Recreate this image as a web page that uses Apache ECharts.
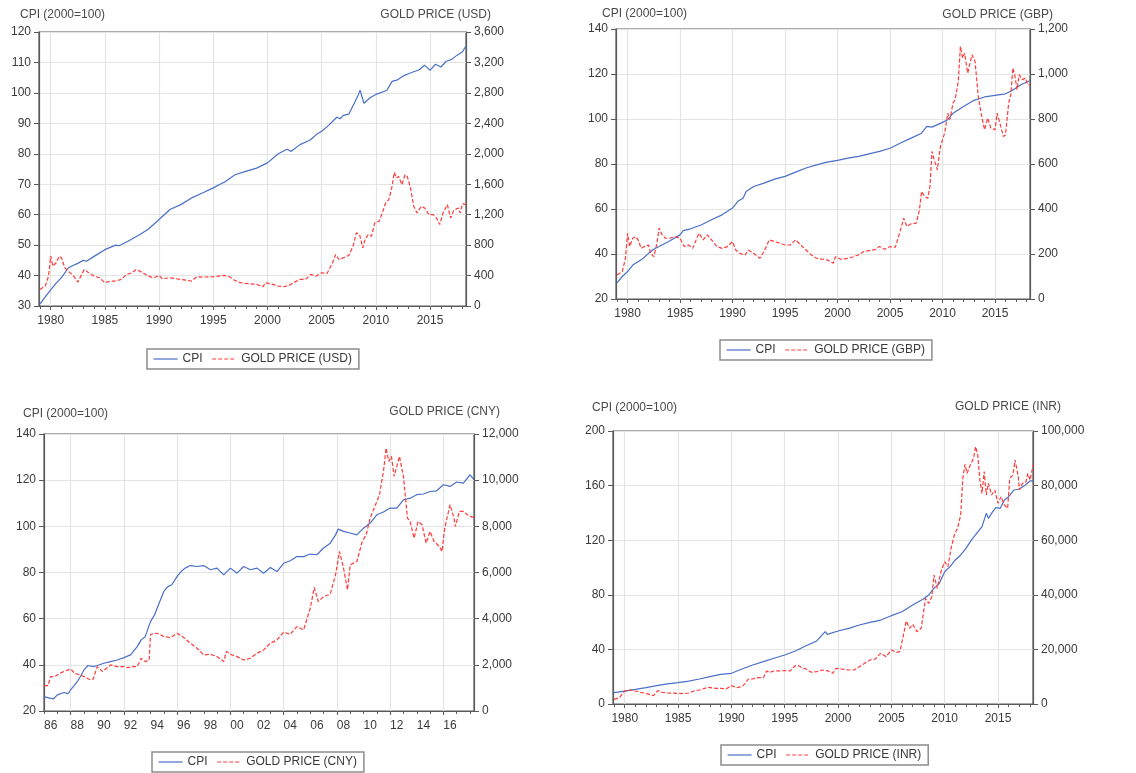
<!DOCTYPE html>
<html><head><meta charset="utf-8">
<script src="https://cdn.jsdelivr.net/npm/echarts@6/dist/echarts.min.js"></script>
<style>html,body{margin:0;padding:0;background:#fff}#c{width:1136px;height:773px}</style>
</head><body><div id="c"></div>
<script>
// ---------- DATA (decimal year, value) ----------
const usdCpi = [[1979.0,30.6],[1979.5,33],[1980.0,35.3],[1980.5,37.5],[1981.0,39.3],[1981.6,42.4],[1982.0,43.2],[1982.5,44],[1983.0,45],[1983.3,44.7],[1984.0,46.3],[1985.0,48.5],[1986.0,50],[1986.3,49.8],[1987.0,51],[1988.0,53],[1989.0,55.2],[1990.0,58.4],[1991.0,61.7],[1992.0,63.3],[1993.0,65.5],[1994.0,67.1],[1995.0,68.8],[1995.8,70.3],[1996.0,70.6],[1997.0,73.1],[1998.0,74.2],[1999.0,75.3],[2000.0,77],[2001.0,80],[2001.8,81.5],[2002.2,80.8],[2003.0,83],[2003.8,84.3],[2004.0,84.7],[2004.5,86.3],[2005.0,87.4],[2005.7,89.5],[2006.0,90.6],[2006.4,92],[2006.7,91.5],[2007.0,92.6],[2007.5,93],[2008.0,96.5],[2008.4,99.5],[2008.55,100.9],[2008.9,96.6],[2009.5,98.5],[2010.0,99.5],[2011.0,100.8],[2011.5,103.8],[2012.0,104.3],[2012.5,105.5],[2013.0,106.3],[2014.0,107.6],[2014.5,109.1],[2015.0,107.4],[2015.5,109.4],[2016.0,108.5],[2016.5,110.4],[2017.0,111],[2017.5,112.4],[2018.0,113.5],[2018.3,115.3]];
const usdGold = [[1979.0,218],[1979.5,262],[1979.8,393],[1980.0,655],[1980.2,524],[1980.5,568],[1980.8,655],[1981.0,633],[1981.3,502],[1981.6,458],[1982.0,415],[1982.5,314],[1982.7,371],[1983.1,480],[1983.5,437],[1984.0,393],[1984.5,371],[1985.0,306],[1985.5,328],[1986.0,328],[1986.5,349],[1987.0,415],[1987.5,437],[1987.9,480],[1988.5,437],[1989.0,393],[1989.5,371],[1990.0,402],[1990.3,358],[1991.0,371],[1992.0,349],[1993.0,328],[1993.5,384],[1994.0,380],[1995.0,384],[1996.0,402],[1996.5,384],[1997.0,336],[1997.5,306],[1998.0,297],[1999.0,284],[1999.6,253],[1999.8,306],[2000.5,284],[2001.0,262],[2001.5,253],[2002.0,271],[2002.5,314],[2003.0,349],[2003.5,349],[2004.0,415],[2004.5,393],[2005.0,437],[2005.5,428],[2006.0,568],[2006.3,677],[2006.6,611],[2007.0,633],[2007.5,664],[2007.9,786],[2008.2,961],[2008.5,939],[2008.8,764],[2009.0,873],[2009.3,939],[2009.6,917],[2009.9,1092],[2010.3,1114],[2010.6,1223],[2010.9,1354],[2011.2,1398],[2011.5,1572],[2011.7,1755],[2011.9,1681],[2012.1,1703],[2012.4,1594],[2012.7,1725],[2012.9,1703],[2013.2,1550],[2013.5,1310],[2013.8,1223],[2014.2,1310],[2014.5,1288],[2014.9,1201],[2015.3,1201],[2015.6,1157],[2015.9,1070],[2016.2,1223],[2016.6,1332],[2016.9,1157],[2017.2,1258],[2017.6,1288],[2017.8,1223],[2018.0,1345],[2018.3,1332]];

const gbpCpi = [[1979.0,27.2],[1979.5,30],[1980.0,32.2],[1980.5,35.1],[1981.0,36.6],[1981.5,38.1],[1982.0,40.3],[1982.5,42.1],[1983.0,43.3],[1984.0,45.8],[1985.0,48.5],[1985.3,50.4],[1986.0,51.2],[1987.0,52.9],[1988.0,55.2],[1989.0,57.4],[1990.0,60.4],[1990.5,63.4],[1991.0,64.8],[1991.3,67.8],[1992.0,70],[1993.0,71.5],[1994.0,73.3],[1995.0,74.5],[1996.0,76.4],[1997.0,78.2],[1998.0,79.6],[1999.0,80.8],[2000.0,81.6],[2001.0,82.6],[2002.0,83.4],[2003.0,84.5],[2004.0,85.6],[2005.0,87],[2006.0,89.3],[2007.0,91.5],[2008.0,93.7],[2008.5,96.7],[2009.0,96.4],[2010.0,98.5],[2010.5,99.7],[2011.0,102.6],[2012.0,105.6],[2013.0,108.3],[2014.0,109.8],[2015.0,110.5],[2016.0,111.2],[2016.5,112.3],[2017.0,113.8],[2017.5,115.3],[2018.3,117]];
const gbpGold = [[1979.0,107],[1979.5,122],[1979.8,181],[1980.0,292],[1980.2,233],[1980.5,270],[1980.8,277],[1981.0,263],[1981.3,225],[1981.6,233],[1982.0,240],[1982.2,203],[1982.5,188],[1982.8,248],[1983.0,315],[1983.3,285],[1983.6,270],[1984.0,270],[1984.5,277],[1985.0,270],[1985.4,233],[1985.8,240],[1986.2,225],[1986.8,292],[1987.2,263],[1987.6,285],[1988.0,263],[1988.5,233],[1989.0,225],[1989.5,233],[1990.0,255],[1990.3,218],[1990.7,203],[1991.2,196],[1991.5,218],[1992.0,203],[1992.6,181],[1993.0,211],[1993.5,263],[1994.0,255],[1994.5,248],[1995.0,240],[1995.5,240],[1996.0,263],[1996.5,240],[1997.0,218],[1997.5,196],[1998.0,181],[1998.5,177],[1999.0,174],[1999.6,159],[1999.8,188],[2000.3,177],[2001.0,181],[2001.5,188],[2002.0,196],[2002.5,211],[2003.0,215],[2003.5,218],[2004.0,233],[2004.5,221],[2005.0,233],[2005.5,230],[2006.0,307],[2006.3,359],[2006.6,322],[2007.0,334],[2007.5,337],[2007.8,396],[2008.0,478],[2008.3,455],[2008.6,448],[2008.8,500],[2009.0,656],[2009.2,619],[2009.5,574],[2009.8,678],[2010.2,737],[2010.5,826],[2010.7,797],[2011.0,871],[2011.2,886],[2011.5,967],[2011.7,1123],[2011.9,1071],[2012.1,1093],[2012.4,1004],[2012.8,1086],[2013.1,1056],[2013.4,901],[2013.7,819],[2014.0,752],[2014.3,804],[2014.6,760],[2015.0,752],[2015.2,826],[2015.5,774],[2015.8,722],[2016.0,730],[2016.3,871],[2016.5,908],[2016.7,1027],[2016.9,990],[2017.1,930],[2017.3,997],[2017.6,975],[2017.9,982],[2018.1,953],[2018.3,953]];

const cnyCpi = [[1986.0,26.2],[1986.5,25.5],[1986.7,25.2],[1987.0,27],[1987.5,28],[1987.8,27.5],[1988.0,29.1],[1988.5,32.7],[1988.8,35.6],[1989.0,37.8],[1989.3,39.7],[1989.7,39.2],[1990.0,39.7],[1990.5,40.7],[1991.0,41.4],[1991.5,42.1],[1992.0,43.1],[1992.5,44.3],[1993.0,47.9],[1993.3,50.8],[1993.6,52.2],[1994.0,58.7],[1994.3,61.6],[1994.6,66],[1995.0,71.8],[1995.3,73.9],[1995.6,74.7],[1996.0,78.3],[1996.3,80.4],[1996.6,81.9],[1997.0,83],[1997.5,82.6],[1998.0,83],[1998.5,81.2],[1999.0,81.9],[1999.5,79],[2000.0,81.9],[2000.5,79.7],[2001.0,82.6],[2001.5,81.2],[2002.0,81.9],[2002.5,79.7],[2003.0,82.2],[2003.5,80.4],[2004.0,84],[2004.5,85.1],[2005.0,86.9],[2005.5,86.9],[2006.0,88],[2006.5,87.7],[2007.0,90.6],[2007.5,92.7],[2007.9,96.3],[2008.1,98.8],[2008.5,97.8],[2009.0,97.1],[2009.5,96.3],[2010.0,99.2],[2010.5,101.4],[2011.0,105],[2011.5,106.2],[2012.0,107.9],[2012.5,107.9],[2013.0,111.5],[2013.5,112.2],[2014.0,113.7],[2014.5,114],[2015.0,115.1],[2015.5,115.4],[2016.0,118],[2016.5,117.3],[2017.0,119.2],[2017.5,118.7],[2018.0,122.3],[2018.3,120.2]];
const cnyGold = [[1986.0,1099],[1986.3,1099],[1986.5,1489],[1986.8,1489],[1987.2,1634],[1987.6,1735],[1988.0,1822],[1988.3,1634],[1988.7,1561],[1989.0,1489],[1989.5,1345],[1989.7,1388],[1990.0,1923],[1990.4,1706],[1990.7,1851],[1991.0,1995],[1991.5,1923],[1992.0,1923],[1992.3,1879],[1992.6,1923],[1993.0,1923],[1993.3,2284],[1993.6,2140],[1993.9,2212],[1994.0,3325],[1994.5,3369],[1995.0,3224],[1995.5,3181],[1996.0,3369],[1996.5,3181],[1997.0,2935],[1997.5,2718],[1998.0,2429],[1998.5,2458],[1999.0,2357],[1999.5,2140],[1999.7,2573],[2000.0,2458],[2000.5,2357],[2001.0,2212],[2001.5,2284],[2002.0,2501],[2002.5,2646],[2003.0,2935],[2003.5,3079],[2004.0,3412],[2004.5,3325],[2005.0,3658],[2005.5,3513],[2006.0,4453],[2006.3,5349],[2006.6,4742],[2007.0,4959],[2007.5,5060],[2007.9,5899],[2008.2,6911],[2008.5,6188],[2008.8,5248],[2009.0,6332],[2009.5,6477],[2009.9,7344],[2010.2,7633],[2010.5,8356],[2010.9,8935],[2011.2,9368],[2011.5,10380],[2011.7,11392],[2011.9,10814],[2012.1,11031],[2012.3,10163],[2012.7,11031],[2013.0,10163],[2013.3,8356],[2013.5,8212],[2013.8,7489],[2014.1,8212],[2014.4,8067],[2014.7,7272],[2015.0,7778],[2015.3,7344],[2015.7,7128],[2015.9,6911],[2016.1,7922],[2016.5,8935],[2016.8,8356],[2016.9,7995],[2017.2,8645],[2017.5,8645],[2017.8,8501],[2018.0,8429],[2018.3,8385]];

const inrCpi = [[1979.0,8.3],[1980.0,9.5],[1981.0,10.7],[1982.0,12],[1983.0,13.4],[1984.0,14.7],[1985.0,15.6],[1986.0,16.8],[1987.0,18.3],[1988.0,20],[1989.0,21.7],[1990.0,22.5],[1991.0,25.6],[1992.0,28.6],[1993.0,31],[1994.0,33.5],[1995.0,35.9],[1996.0,38.8],[1997.0,42.7],[1998.0,46.2],[1998.8,53],[1999.0,51],[2000.0,53.5],[2001.0,55.4],[2002.0,57.9],[2003.0,59.8],[2004.0,61.5],[2005.0,64.7],[2006.0,67.6],[2007.0,72.5],[2008.0,76.9],[2008.5,79.9],[2009.0,84.7],[2009.5,88.4],[2010.0,96.9],[2010.5,100.6],[2011.0,105.5],[2011.5,109.2],[2012.0,114],[2012.5,120.1],[2013.0,125],[2013.5,129.9],[2013.9,139.7],[2014.1,136],[2014.5,140.9],[2014.8,143.8],[2015.2,143.3],[2015.6,149.5],[2016.0,151.9],[2016.5,156.8],[2017.0,157.5],[2017.5,160],[2018.0,163.4],[2018.3,163.4]];
const inrGold = [[1979.0,1709],[1979.5,2320],[1980.0,4762],[1980.5,5128],[1981.0,4762],[1981.5,4273],[1982.0,3907],[1982.5,3297],[1982.7,3053],[1983.1,4884],[1983.5,4273],[1984.0,4029],[1985.0,3907],[1985.5,3785],[1986.0,4029],[1986.5,4762],[1987.0,5128],[1987.8,6105],[1988.5,5739],[1989.0,5739],[1989.5,5495],[1990.0,6716],[1990.5,5983],[1991.0,6349],[1991.3,7570],[1991.6,9158],[1992.0,9158],[1992.5,9646],[1993.0,9646],[1993.3,12088],[1993.6,11600],[1994.0,12088],[1995.0,12210],[1995.5,12088],[1996.0,14042],[1996.3,14042],[1996.6,13309],[1997.0,12821],[1997.5,11600],[1998.0,11844],[1998.5,12454],[1999.0,12210],[1999.5,11233],[1999.8,13065],[2000.3,12821],[2001.0,12454],[2001.5,12454],[2002.0,13675],[2002.5,14896],[2003.0,16117],[2003.5,16484],[2004.0,18559],[2004.5,17338],[2005.0,19780],[2005.5,18926],[2005.8,19170],[2006.2,26496],[2006.4,30403],[2006.7,27717],[2007.0,29182],[2007.4,26496],[2007.8,27717],[2008.2,38706],[2008.5,36874],[2008.8,39316],[2009.0,47253],[2009.3,42369],[2009.7,49084],[2010.0,52137],[2010.3,50305],[2010.6,57021],[2010.9,61905],[2011.2,64347],[2011.5,69231],[2011.7,82662],[2011.9,87790],[2012.1,84493],[2012.4,87546],[2012.7,89988],[2012.9,94261],[2013.1,91209],[2013.3,82051],[2013.5,77167],[2013.7,85104],[2013.9,76557],[2014.1,80830],[2014.4,76557],[2014.7,78388],[2015.0,73504],[2015.3,75946],[2015.6,72894],[2015.9,71673],[2016.1,82662],[2016.4,83883],[2016.6,89377],[2016.9,83272],[2017.0,78388],[2017.3,80830],[2017.6,81197],[2017.8,84493],[2018.0,82051],[2018.3,87546]];

const fiveYearLabels = [1980,1985,1990,1995,2000,2005,2010,2015];
const yearTicksA = [1979,1980,1981,1982,1983,1984,1985,1986,1987,1988,1989,1990,1991,1992,1993,1994,1995,1996,1997,1998,1999,2000,2001,2002,2003,2004,2005,2006,2007,2008,2009,2010,2011,2012,2013,2014,2015,2016,2017,2018];
const cnyLabelPos = [1986.5,1988.5,1990.5,1992.5,1994.5,1996.5,1998.5,2000.5,2002.5,2004.5,2006.5,2008.5,2010.5,2012.5,2014.5,2016.5];
const cnyGridYears = [1988,1992,1996,2000,2004,2008,2012,2016];
const yearTicksB = [1986,1987,1988,1989,1990,1991,1992,1993,1994,1995,1996,1997,1998,1999,2000,2001,2002,2003,2004,2005,2006,2007,2008,2009,2010,2011,2012,2013,2014,2015,2016,2017,2018];

// ---------- CHART ----------
const FONT = 'Liberation Sans, Arial, sans-serif';
const TXT = '#3a3a3a';
const FRAME = '#5a5a5a';
const GRIDC = '#e4e4e4';
const BLUE = '#4a6fc8';
const RED = '#ff3a3a';

const panels = [
  {grid:{left:39,top:32,width:427,height:274}, cpi:usdCpi, gold:usdGold, cur:'USD',
   l:[30,120,10], r:[0,3600,400], x:[1978.92,2018.32], labels:fiveYearLabels, lfmt:v=>String(v), major:fiveYearLabels, minor:yearTicksA,
   legend:{left:147,top:349}, tl:[20,16], tr:[491,16]},
  {grid:{left:616,top:29,width:414,height:270}, cpi:gbpCpi, gold:gbpGold, cur:'GBP',
   l:[20,140,20], r:[0,1200,200], x:[1978.9,2018.33], labels:fiveYearLabels, lfmt:v=>String(v), major:fiveYearLabels, minor:yearTicksA,
   legend:{left:720,top:340}, tl:[602,15], tr:[1053,16]},
  {grid:{left:44,top:434,width:430,height:277}, cpi:cnyCpi, gold:cnyGold, cur:'CNY',
   l:[20,140,20], r:[0,12000,2000], x:[1986.0,2018.3], labels:cnyLabelPos, lfmt:v=>String(Math.floor(v)%100).padStart(2,'0'), major:cnyGridYears, minor:yearTicksB,
   legend:{left:152,top:752}, tl:[23,415], tr:[500,413]},
  {grid:{left:613,top:431,width:420,height:273}, cpi:inrCpi, gold:inrGold, cur:'INR',
   l:[0,200,40], r:[0,100000,20000], x:[1978.9,2018.28], labels:fiveYearLabels, lfmt:v=>String(v), major:fiveYearLabels, minor:yearTicksA,
   legend:{left:721,top:745}, tl:[592,409], tr:[1061,408]}
];

const option = {backgroundColor:'#fff', animation:false, grid:[], xAxis:[], yAxis:[], series:[], legend:[], graphic:[]};
const lab = {color:TXT, fontFamily:FONT, fontSize:12};

panels.forEach((p,i)=>{
  option.grid.push(Object.assign({show:true, borderColor:FRAME, borderWidth:1.2, backgroundColor:'#fff', containLabel:false}, p.grid));
  option.xAxis.push({type:'value', gridIndex:i, min:p.x[0], max:p.x[1],
    axisLine:{show:true, onZero:false, lineStyle:{color:FRAME, width:1.2}},
    axisTick:{show:true, customValues:p.major, length:4, lineStyle:{color:FRAME}},
    axisLabel:Object.assign({customValues:p.labels, formatter:p.lfmt, margin:9}, lab),
    splitLine:{show:true, lineStyle:{color:GRIDC, width:1.2}}});
  option.xAxis.push({type:'value', gridIndex:i, min:p.x[0], max:p.x[1], position:'bottom',
    axisLine:{show:false}, axisLabel:{show:false}, splitLine:{show:false},
    axisTick:{show:true, customValues:p.minor, length:3, lineStyle:{color:FRAME}}});
  option.yAxis.push({type:'value', gridIndex:i, position:'left', min:p.l[0], max:p.l[1], interval:p.l[2],
    axisLine:{show:true, lineStyle:{color:FRAME, width:1.2}},
    axisTick:{show:true, length:5, lineStyle:{color:FRAME}},
    axisLabel:Object.assign({margin:8}, lab),
    splitLine:{show:true, lineStyle:{color:GRIDC, width:1.2}}});
  option.yAxis.push({type:'value', gridIndex:i, position:'right', min:p.r[0], max:p.r[1], interval:p.r[2],
    axisLine:{show:true, lineStyle:{color:FRAME, width:1.2}},
    axisTick:{show:true, length:5, lineStyle:{color:FRAME}},
    axisLabel:Object.assign({margin:8, formatter:v=>v.toLocaleString('en-US')}, lab),
    splitLine:{show:false}});
  const goldName = 'GOLD PRICE (' + p.cur + ')';
  option.series.push({type:'line', name:'CPI', xAxisIndex:2*i, yAxisIndex:2*i, data:p.cpi, symbol:'none',
    lineStyle:{color:BLUE, width:1.2}, itemStyle:{color:BLUE}, z:3});
  option.series.push({type:'line', name:goldName, xAxisIndex:2*i, yAxisIndex:2*i+1, data:p.gold, symbol:'none',
    lineStyle:{color:RED, width:1.2, type:[4,2]}, itemStyle:{color:RED}, z:4});
  option.legend.push({left:p.legend.left, top:p.legend.top, orient:'horizontal', data:['CPI', goldName],
    itemWidth:24, itemHeight:10, itemGap:9, padding:[4,7,4,6], borderColor:'#8c8c8c', borderWidth:1.5,
    itemStyle:{opacity:0}, lineStyle:{width:1.2},
    backgroundColor:'#fff', textStyle:Object.assign({}, lab), selectedMode:false});
  option.graphic.push({type:'text', left:p.tl[0], top:p.tl[1]-7, style:{text:'CPI (2000=100)', fill:'#4a4a4a', font:'12px '+FONT}});
  option.graphic.push({type:'text', right:1136-p.tr[0], top:p.tr[1]-7, style:{text:goldName, fill:'#4a4a4a', font:'12px '+FONT}});
});

const chart = echarts.init(document.getElementById('c'));
chart.setOption(option);
</script></body></html>
